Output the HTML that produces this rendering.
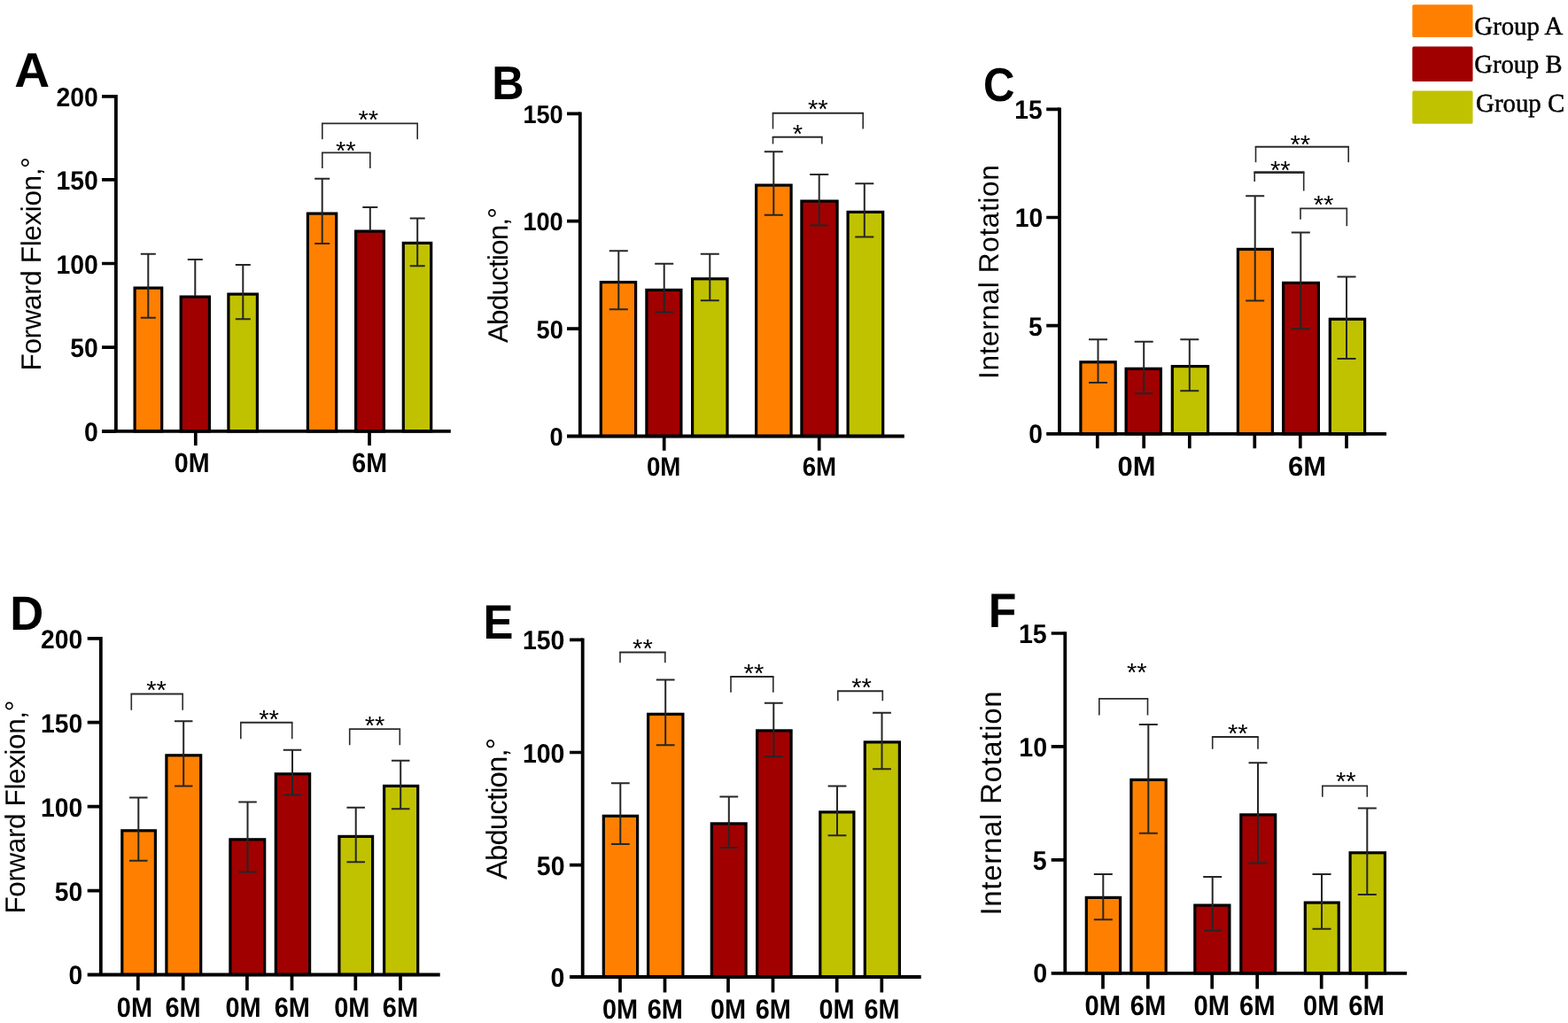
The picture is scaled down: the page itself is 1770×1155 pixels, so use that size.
<!DOCTYPE html>
<html lang="en">
<head>
<meta charset="utf-8">
<title>Shoulder range of motion by group at 0M and 6M</title>
<style>
html,body{margin:0;padding:0;background:#fff;}
body{width:1770px;height:1155px;overflow:hidden;}
svg{display:block;}
text{white-space:pre;text-rendering:geometricPrecision;}
</style>
</head>
<body>
<svg width="1770" height="1155" viewBox="0 0 1770 1155" role="img" aria-label="Bar charts of forward flexion, abduction and internal rotation for groups A, B and C at 0M and 6M">
<rect width="1770" height="1155" fill="#fff"/>
<g>
<rect x="152.1" y="325.1" width="30.6" height="161.8" fill="#ff8000" stroke="#000" stroke-width="3.2"/>
<rect x="204.2" y="335.1" width="32.2" height="151.8" fill="#a00000" stroke="#000" stroke-width="3.2"/>
<rect x="257.9" y="332.1" width="32.5" height="154.8" fill="#c0c200" stroke="#000" stroke-width="3.2"/>
<rect x="347.4" y="241.1" width="32.3" height="245.8" fill="#ff8000" stroke="#000" stroke-width="3.2"/>
<rect x="401.6" y="261.1" width="31.8" height="225.8" fill="#a00000" stroke="#000" stroke-width="3.2"/>
<rect x="455.3" y="274.4" width="31.4" height="212.5" fill="#c0c200" stroke="#000" stroke-width="3.2"/>
<path d="M167.3 286.7V358.7M158.8 286.7H175.8M158.8 358.7H175.8" fill="none" stroke="#262626" stroke-width="2"/>
<path d="M220.3 293V334.5M211.8 293H228.8" fill="none" stroke="#262626" stroke-width="2"/>
<path d="M274.3 299V360.3M265.8 299H282.8M265.8 360.3H282.8" fill="none" stroke="#262626" stroke-width="2"/>
<path d="M363.7 201.7V275M355.2 201.7H372.2M355.2 275H372.2" fill="none" stroke="#262626" stroke-width="2"/>
<path d="M417.8 234V260.5M409.3 234H426.3" fill="none" stroke="#262626" stroke-width="2"/>
<path d="M471.2 246.5V300.3M462.7 246.5H479.7M462.7 300.3H479.7" fill="none" stroke="#262626" stroke-width="2"/>
<path d="M130.9 106.95V488.8M115 486.9H508.8" fill="none" stroke="#000" stroke-width="3.8"/>
<text transform="translate(63.41 119.8) scale(0.9470 1)" font-family='"Liberation Sans", sans-serif' font-size="29.97" font-weight="700" fill="#000">200</text>
<text transform="translate(63.41 213.9) scale(0.9470 1)" font-family='"Liberation Sans", sans-serif' font-size="29.97" font-weight="700" fill="#000">150</text>
<text transform="translate(63.41 308.5) scale(0.9470 1)" font-family='"Liberation Sans", sans-serif' font-size="29.97" font-weight="700" fill="#000">100</text>
<text transform="translate(79.23 403.1) scale(0.9470 1)" font-family='"Liberation Sans", sans-serif' font-size="29.97" font-weight="700" fill="#000">50</text>
<text transform="translate(94.98 497.8) scale(0.9470 1)" font-family='"Liberation Sans", sans-serif' font-size="29.97" font-weight="700" fill="#000">0</text>
<path d="M115 108.8H130.9M115 202.9H130.9M115 297.5H130.9M115 392.1H130.9M115 486.8H130.9M220.8 486.9V503M417 486.9V503" fill="none" stroke="#000" stroke-width="3.7"/>
<text transform="translate(196.75 532.84) scale(0.9259 1)" font-family='"Liberation Sans", sans-serif' font-size="30.97" font-weight="700" fill="#000">0M</text>
<text transform="translate(397.29 532.84) scale(0.9259 1)" font-family='"Liberation Sans", sans-serif' font-size="30.97" font-weight="700" fill="#000">6M</text>
<path d="M363.8 157.2V139.4M471.2 139.4V157.2" fill="none" stroke="#2a2a2a" stroke-width="1.6"/>
<path d="M363 139.4H472" fill="none" stroke="#2a2a2a" stroke-width="1.9"/>
<text x="404.46" y="145.02" font-family='"Liberation Sans", sans-serif' font-size="29.2" fill="#000">**</text>
<path d="M363.8 190V172.4M417.8 172.4V190" fill="none" stroke="#2a2a2a" stroke-width="1.6"/>
<path d="M363 172.4H418.6" fill="none" stroke="#2a2a2a" stroke-width="1.9"/>
<text x="379.01" y="180.02" font-family='"Liberation Sans", sans-serif' font-size="29.2" fill="#000">**</text>
<text transform="translate(16.27 97.65) scale(1.0044 1)" font-family='"Liberation Sans", sans-serif' font-size="54.98" font-weight="700" fill="#000">A</text>
<text transform="translate(45.8 418.4) rotate(-90)" font-family='"Liberation Sans", sans-serif' font-size="31.5" letter-spacing="-0.38" fill="#000">Forward Flexion,°</text>
<rect x="678.3" y="318.6" width="39.3" height="173.9" fill="#ff8000" stroke="#000" stroke-width="3.2"/>
<rect x="729.9" y="327.4" width="39" height="165.1" fill="#a00000" stroke="#000" stroke-width="3.2"/>
<rect x="781.6" y="314.8" width="39.4" height="177.7" fill="#c0c200" stroke="#000" stroke-width="3.2"/>
<rect x="853.6" y="209.1" width="39.5" height="283.4" fill="#ff8000" stroke="#000" stroke-width="3.2"/>
<rect x="904.9" y="227.1" width="40.2" height="265.4" fill="#a00000" stroke="#000" stroke-width="3.2"/>
<rect x="957.1" y="239.4" width="39.6" height="253.1" fill="#c0c200" stroke="#000" stroke-width="3.2"/>
<path d="M698.3 283.3V349.2M687.8 283.3H708.8M687.8 349.2H708.8" fill="none" stroke="#262626" stroke-width="2"/>
<path d="M749.7 297.8V352.5M739.2 297.8H760.2M739.2 352.5H760.2" fill="none" stroke="#262626" stroke-width="2"/>
<path d="M801.3 286.7V339.2M790.8 286.7H811.8M790.8 339.2H811.8" fill="none" stroke="#262626" stroke-width="2"/>
<path d="M873.3 171.3V242.8M862.8 171.3H883.8M862.8 242.8H883.8" fill="none" stroke="#262626" stroke-width="2"/>
<path d="M924.7 197V254.5M914.2 197H935.2M914.2 254.5H935.2" fill="none" stroke="#262626" stroke-width="2"/>
<path d="M975.8 207.2V267.5M965.3 207.2H986.3M965.3 267.5H986.3" fill="none" stroke="#262626" stroke-width="2"/>
<path d="M654.8 126.45V494.4M640 492.5H1020.8" fill="none" stroke="#000" stroke-width="3.8"/>
<text transform="translate(590.4 138.86) scale(0.9470 1)" font-family='"Liberation Sans", sans-serif' font-size="28.68" font-weight="700" fill="#000">150</text>
<text transform="translate(590.4 260.26) scale(0.9470 1)" font-family='"Liberation Sans", sans-serif' font-size="28.68" font-weight="700" fill="#000">100</text>
<text transform="translate(605.54 381.66) scale(0.9470 1)" font-family='"Liberation Sans", sans-serif' font-size="28.68" font-weight="700" fill="#000">50</text>
<text transform="translate(620.61 502.66) scale(0.9470 1)" font-family='"Liberation Sans", sans-serif' font-size="28.68" font-weight="700" fill="#000">0</text>
<path d="M640 128.3H654.8M640 249.7H654.8M640 371.1H654.8M749.7 492.5V508.8M924.7 492.5V508.8" fill="none" stroke="#000" stroke-width="3.7"/>
<text transform="translate(729.92 537.18) scale(0.9259 1)" font-family='"Liberation Sans", sans-serif' font-size="29.91" font-weight="700" fill="#000">0M</text>
<text transform="translate(905.7 537.18) scale(0.9259 1)" font-family='"Liberation Sans", sans-serif' font-size="29.91" font-weight="700" fill="#000">6M</text>
<path d="M872.5 145.5V127.7M974.2 127.7V145.5" fill="none" stroke="#2a2a2a" stroke-width="1.6"/>
<path d="M871.7 127.7H975" fill="none" stroke="#2a2a2a" stroke-width="1.9"/>
<text x="911.91" y="132.66" font-family='"Liberation Sans", sans-serif' font-size="29.2" fill="#000">**</text>
<path d="M872.5 162.5V154.7M927.8 154.7V162.5" fill="none" stroke="#2a2a2a" stroke-width="1.6"/>
<path d="M871.7 154.7H928.6" fill="none" stroke="#2a2a2a" stroke-width="1.9"/>
<text x="894.81" y="160.87" font-family='"Liberation Sans", sans-serif' font-size="29.2" fill="#000">*</text>
<text transform="translate(555.25 112.15) scale(0.9402 1)" font-family='"Liberation Sans", sans-serif' font-size="53.53" font-weight="700" fill="#000">B</text>
<text transform="translate(573 387.08) rotate(-90)" font-family='"Liberation Sans", sans-serif' font-size="31.5" letter-spacing="-0.85" fill="#000">Abduction,°</text>
<rect x="1219.9" y="408.8" width="39.3" height="81.1" fill="#ff8000" stroke="#000" stroke-width="3.2"/>
<rect x="1271.1" y="416.3" width="39.3" height="73.6" fill="#a00000" stroke="#000" stroke-width="3.2"/>
<rect x="1323.3" y="413.6" width="40.3" height="76.3" fill="#c0c200" stroke="#000" stroke-width="3.2"/>
<rect x="1397.4" y="281.4" width="39" height="208.5" fill="#ff8000" stroke="#000" stroke-width="3.2"/>
<rect x="1448.6" y="319.4" width="39.8" height="170.5" fill="#a00000" stroke="#000" stroke-width="3.2"/>
<rect x="1501.3" y="360.3" width="39.3" height="129.6" fill="#c0c200" stroke="#000" stroke-width="3.2"/>
<path d="M1239.5 383.2V432M1229 383.2H1250M1229 432H1250" fill="none" stroke="#262626" stroke-width="2"/>
<path d="M1291.2 385.7V444.2M1280.7 385.7H1301.7M1280.7 444.2H1301.7" fill="none" stroke="#262626" stroke-width="2"/>
<path d="M1342.8 383.2V441.3M1332.3 383.2H1353.3M1332.3 441.3H1353.3" fill="none" stroke="#262626" stroke-width="2"/>
<path d="M1416.7 221.3V339.5M1406.2 221.3H1427.2M1406.2 339.5H1427.2" fill="none" stroke="#262626" stroke-width="2"/>
<path d="M1468.3 262.5V371.2M1457.8 262.5H1478.8M1457.8 371.2H1478.8" fill="none" stroke="#262626" stroke-width="2"/>
<path d="M1520 312.5V405M1509.5 312.5H1530.5M1509.5 405H1530.5" fill="none" stroke="#262626" stroke-width="2"/>
<path d="M1196 121.45V491.8M1181.2 489.9H1565" fill="none" stroke="#000" stroke-width="3.8"/>
<text transform="translate(1145.34 134.1) scale(0.9470 1)" font-family='"Liberation Sans", sans-serif' font-size="29.82" font-weight="700" fill="#000">15</text>
<text transform="translate(1145.69 256.45) scale(0.9470 1)" font-family='"Liberation Sans", sans-serif' font-size="29.82" font-weight="700" fill="#000">10</text>
<text transform="translate(1161.01 378.5) scale(0.9470 1)" font-family='"Liberation Sans", sans-serif' font-size="29.82" font-weight="700" fill="#000">5</text>
<text transform="translate(1161.36 500.45) scale(0.9470 1)" font-family='"Liberation Sans", sans-serif' font-size="29.82" font-weight="700" fill="#000">0</text>
<path d="M1181.2 123.3H1196M1181.2 245.5H1196M1181.2 367.7H1196M1238.8 489.9V506.3M1291.2 489.9V506.3M1342.8 489.9V506.3M1416.3 489.9V506.3M1467.8 489.9V506.3M1520 489.9V506.3" fill="none" stroke="#000" stroke-width="3.7"/>
<text x="1261.44" y="536.7" font-family='"Liberation Sans", sans-serif' font-size="30.98" font-weight="700" fill="#000">0M</text>
<text x="1454.12" y="536.7" font-family='"Liberation Sans", sans-serif' font-size="30.98" font-weight="700" fill="#000">6M</text>
<path d="M1417.5 183.3V165.7M1522.2 165.7V183.3" fill="none" stroke="#2a2a2a" stroke-width="1.6"/>
<path d="M1416.7 165.7H1523" fill="none" stroke="#2a2a2a" stroke-width="1.9"/>
<text x="1456.51" y="172.67" font-family='"Liberation Sans", sans-serif' font-size="29.2" fill="#000">**</text>
<path d="M1416.2 205V194.6M1471.7 194.6V215.5" fill="none" stroke="#2a2a2a" stroke-width="1.6"/>
<path d="M1415.4 194.6H1472.5" fill="none" stroke="#2a2a2a" stroke-width="2.6"/>
<text x="1434.01" y="202.37" font-family='"Liberation Sans", sans-serif' font-size="29.2" fill="#000">**</text>
<path d="M1468 247.8V235.4M1520.3 235.4V255.3" fill="none" stroke="#2a2a2a" stroke-width="1.6"/>
<path d="M1467.2 235.4H1521.1" fill="none" stroke="#2a2a2a" stroke-width="1.9"/>
<text x="1482.71" y="241.06" font-family='"Liberation Sans", sans-serif' font-size="29.2" fill="#000">**</text>
<text transform="translate(1109.88 114.02) scale(0.9226 1)" font-family='"Liberation Sans", sans-serif' font-size="53.29" font-weight="700" fill="#000">C</text>
<text transform="translate(1127.3 427.91) rotate(-90)" font-family='"Liberation Sans", sans-serif' font-size="31.5" letter-spacing="0.66" fill="#000">Internal Rotation</text>
<rect x="137.8" y="937.8" width="37.6" height="162.7" fill="#ff8000" stroke="#000" stroke-width="3.2"/>
<rect x="187.9" y="852.8" width="38.8" height="247.7" fill="#ff8000" stroke="#000" stroke-width="3.2"/>
<rect x="259.9" y="947.8" width="38.8" height="152.7" fill="#a00000" stroke="#000" stroke-width="3.2"/>
<rect x="311.3" y="873.8" width="38.3" height="226.7" fill="#a00000" stroke="#000" stroke-width="3.2"/>
<rect x="382.9" y="944.4" width="37.7" height="156.1" fill="#c0c200" stroke="#000" stroke-width="3.2"/>
<rect x="433.6" y="887.4" width="38.1" height="213.1" fill="#c0c200" stroke="#000" stroke-width="3.2"/>
<path d="M156.3 900.5V971.7M146.05 900.5H166.55M146.05 971.7H166.55" fill="none" stroke="#262626" stroke-width="2"/>
<path d="M207.2 814.2V887.5M196.95 814.2H217.45M196.95 887.5H217.45" fill="none" stroke="#262626" stroke-width="2"/>
<path d="M279.5 905.5V984.5M269.25 905.5H289.75M269.25 984.5H289.75" fill="none" stroke="#262626" stroke-width="2"/>
<path d="M330 846.7V897.5M319.75 846.7H340.25M319.75 897.5H340.25" fill="none" stroke="#262626" stroke-width="2"/>
<path d="M401.7 911.7V973.3M391.45 911.7H411.95M391.45 973.3H411.95" fill="none" stroke="#262626" stroke-width="2"/>
<path d="M452.2 858.8V913.3M441.95 858.8H462.45M441.95 913.3H462.45" fill="none" stroke="#262626" stroke-width="2"/>
<path d="M113.8 718.95V1102.4M98.7 1100.5H496.7" fill="none" stroke="#000" stroke-width="3.8"/>
<text transform="translate(46.11 731.76) scale(0.9470 1)" font-family='"Liberation Sans", sans-serif' font-size="29.84" font-weight="700" fill="#000">200</text>
<text transform="translate(46.11 826.66) scale(0.9470 1)" font-family='"Liberation Sans", sans-serif' font-size="29.84" font-weight="700" fill="#000">150</text>
<text transform="translate(46.11 921.56) scale(0.9470 1)" font-family='"Liberation Sans", sans-serif' font-size="29.84" font-weight="700" fill="#000">100</text>
<text transform="translate(61.86 1016.56) scale(0.9470 1)" font-family='"Liberation Sans", sans-serif' font-size="29.84" font-weight="700" fill="#000">50</text>
<text transform="translate(77.55 1111.06) scale(0.9470 1)" font-family='"Liberation Sans", sans-serif' font-size="29.84" font-weight="700" fill="#000">0</text>
<path d="M98.7 720.8H113.8M98.7 815.7H113.8M98.7 910.6H113.8M98.7 1005.6H113.8M155.8 1100.5V1118.2M206.7 1100.5V1118.2M278.9 1100.5V1118.2M329.5 1100.5V1118.2M401.3 1100.5V1118.2M452 1100.5V1118.2" fill="none" stroke="#000" stroke-width="3.7"/>
<text transform="translate(131.8 1147.66) scale(0.9259 1)" font-family='"Liberation Sans", sans-serif' font-size="31.29" font-weight="700" fill="#000">0M</text>
<text transform="translate(186.44 1147.66) scale(0.9259 1)" font-family='"Liberation Sans", sans-serif' font-size="31.29" font-weight="700" fill="#000">6M</text>
<text transform="translate(254.45 1147.66) scale(0.9259 1)" font-family='"Liberation Sans", sans-serif' font-size="31.29" font-weight="700" fill="#000">0M</text>
<text transform="translate(309.64 1147.66) scale(0.9259 1)" font-family='"Liberation Sans", sans-serif' font-size="31.29" font-weight="700" fill="#000">6M</text>
<text transform="translate(377.2 1147.66) scale(0.9259 1)" font-family='"Liberation Sans", sans-serif' font-size="31.29" font-weight="700" fill="#000">0M</text>
<text transform="translate(431.84 1147.66) scale(0.9259 1)" font-family='"Liberation Sans", sans-serif' font-size="31.29" font-weight="700" fill="#000">6M</text>
<path d="M148.3 801.7V783.5M206.2 783.5V801.7" fill="none" stroke="#2a2a2a" stroke-width="1.6"/>
<path d="M147.5 783.5H207" fill="none" stroke="#2a2a2a" stroke-width="1.9"/>
<text x="165.26" y="789.07" font-family='"Liberation Sans", sans-serif' font-size="29.2" fill="#000">**</text>
<path d="M271.8 834.2V815.8M329.7 815.8V834.2" fill="none" stroke="#2a2a2a" stroke-width="1.6"/>
<path d="M271 815.8H330.5" fill="none" stroke="#2a2a2a" stroke-width="1.9"/>
<text x="292.21" y="821.87" font-family='"Liberation Sans", sans-serif' font-size="29.2" fill="#000">**</text>
<path d="M394.7 841.3V823.1M451.3 823.1V841.3" fill="none" stroke="#2a2a2a" stroke-width="1.6"/>
<path d="M393.9 823.1H452.1" fill="none" stroke="#2a2a2a" stroke-width="1.9"/>
<text x="411.71" y="829.37" font-family='"Liberation Sans", sans-serif' font-size="29.2" fill="#000">**</text>
<text transform="translate(11.3 710.65) scale(0.9716 1)" font-family='"Liberation Sans", sans-serif' font-size="54.11" font-weight="700" fill="#000">D</text>
<text transform="translate(28.3 1031.6) rotate(-90)" font-family='"Liberation Sans", sans-serif' font-size="31.5" letter-spacing="-0.39" fill="#000">Forward Flexion,°</text>
<rect x="681.3" y="921.3" width="38.3" height="181.7" fill="#ff8000" stroke="#000" stroke-width="3.2"/>
<rect x="731.6" y="806.3" width="39.3" height="296.7" fill="#ff8000" stroke="#000" stroke-width="3.2"/>
<rect x="803.3" y="929.9" width="38.8" height="173.1" fill="#a00000" stroke="#000" stroke-width="3.2"/>
<rect x="854.6" y="824.9" width="38.5" height="278.1" fill="#a00000" stroke="#000" stroke-width="3.2"/>
<rect x="925.8" y="916.9" width="38.1" height="186.1" fill="#c0c200" stroke="#000" stroke-width="3.2"/>
<rect x="976.3" y="837.9" width="39.1" height="265.1" fill="#c0c200" stroke="#000" stroke-width="3.2"/>
<path d="M700.3 884.2V953M689.9 884.2H710.7M689.9 953H710.7" fill="none" stroke="#262626" stroke-width="2"/>
<path d="M751.2 767.5V841.3M740.8 767.5H761.6M740.8 841.3H761.6" fill="none" stroke="#262626" stroke-width="2"/>
<path d="M822.8 899.6V957M812.4 899.6H833.2M812.4 957H833.2" fill="none" stroke="#262626" stroke-width="2"/>
<path d="M873.3 793.7V854.2M862.9 793.7H883.7M862.9 854.2H883.7" fill="none" stroke="#262626" stroke-width="2"/>
<path d="M945 887.5V943.3M934.6 887.5H955.4M934.6 943.3H955.4" fill="none" stroke="#262626" stroke-width="2"/>
<path d="M995.5 804.7V868.3M985.1 804.7H1005.9M985.1 868.3H1005.9" fill="none" stroke="#262626" stroke-width="2"/>
<path d="M657.7 720.45V1104.9M643 1103H1039.7" fill="none" stroke="#000" stroke-width="3.8"/>
<text transform="translate(589.92 733.34) scale(0.9470 1)" font-family='"Liberation Sans", sans-serif' font-size="30.09" font-weight="700" fill="#000">150</text>
<text transform="translate(589.92 860.54) scale(0.9470 1)" font-family='"Liberation Sans", sans-serif' font-size="30.09" font-weight="700" fill="#000">100</text>
<text transform="translate(605.81 987.74) scale(0.9470 1)" font-family='"Liberation Sans", sans-serif' font-size="30.09" font-weight="700" fill="#000">50</text>
<text transform="translate(621.62 1113.64) scale(0.9470 1)" font-family='"Liberation Sans", sans-serif' font-size="30.09" font-weight="700" fill="#000">0</text>
<path d="M643 722.3H657.7M643 849.5H657.7M643 976.7H657.7M700 1103V1120.5M750.5 1103V1120.5M822 1103V1120.5M872.5 1103V1120.5M944.7 1103V1120.5M995.3 1103V1120.5" fill="none" stroke="#000" stroke-width="3.7"/>
<text transform="translate(679.89 1150.13) scale(0.9259 1)" font-family='"Liberation Sans", sans-serif' font-size="31.22" font-weight="700" fill="#000">0M</text>
<text transform="translate(730.63 1150.13) scale(0.9259 1)" font-family='"Liberation Sans", sans-serif' font-size="31.22" font-weight="700" fill="#000">6M</text>
<text transform="translate(801.99 1150.13) scale(0.9259 1)" font-family='"Liberation Sans", sans-serif' font-size="31.22" font-weight="700" fill="#000">0M</text>
<text transform="translate(852.68 1150.13) scale(0.9259 1)" font-family='"Liberation Sans", sans-serif' font-size="31.22" font-weight="700" fill="#000">6M</text>
<text transform="translate(924.49 1150.13) scale(0.9259 1)" font-family='"Liberation Sans", sans-serif' font-size="31.22" font-weight="700" fill="#000">0M</text>
<text transform="translate(975.38 1150.13) scale(0.9259 1)" font-family='"Liberation Sans", sans-serif' font-size="31.22" font-weight="700" fill="#000">6M</text>
<path d="M700 748.3V736.5M750.8 736.5V748.3" fill="none" stroke="#2a2a2a" stroke-width="1.6"/>
<path d="M699.2 736.5H751.6" fill="none" stroke="#2a2a2a" stroke-width="1.9"/>
<text x="714.11" y="741.87" font-family='"Liberation Sans", sans-serif' font-size="29.2" fill="#000">**</text>
<path d="M825 781.7V764M872.8 764V781.7" fill="none" stroke="#2a2a2a" stroke-width="1.6"/>
<path d="M824.2 764H873.6" fill="none" stroke="#2a2a2a" stroke-width="1.9"/>
<text x="839.61" y="770.41" font-family='"Liberation Sans", sans-serif' font-size="29.2" fill="#000">**</text>
<path d="M945.8 791.3V780.2M996.3 780.2V791.3" fill="none" stroke="#2a2a2a" stroke-width="1.6"/>
<path d="M945 780.2H997.1" fill="none" stroke="#2a2a2a" stroke-width="1.9"/>
<text x="961.26" y="786.47" font-family='"Liberation Sans", sans-serif' font-size="29.2" fill="#000">**</text>
<text transform="translate(545.41 720.65) scale(0.9330 1)" font-family='"Liberation Sans", sans-serif' font-size="54.55" font-weight="700" fill="#000">E</text>
<text transform="translate(571.8 993.08) rotate(-90)" font-family='"Liberation Sans", sans-serif' font-size="32.9" letter-spacing="-0.86" fill="#000">Abduction,°</text>
<rect x="1226.3" y="1013.4" width="38.3" height="85.4" fill="#ff8000" stroke="#000" stroke-width="3.2"/>
<rect x="1276.9" y="880.4" width="39.3" height="218.4" fill="#ff8000" stroke="#000" stroke-width="3.2"/>
<rect x="1348.8" y="1022.1" width="39.1" height="76.7" fill="#a00000" stroke="#000" stroke-width="3.2"/>
<rect x="1400.8" y="919.9" width="38.9" height="178.9" fill="#a00000" stroke="#000" stroke-width="3.2"/>
<rect x="1473.3" y="1019.1" width="37.9" height="79.7" fill="#c0c200" stroke="#000" stroke-width="3.2"/>
<rect x="1524.1" y="962.8" width="39.3" height="136" fill="#c0c200" stroke="#000" stroke-width="3.2"/>
<path d="M1245.3 987V1038.3M1234.8 987H1255.8M1234.8 1038.3H1255.8" fill="none" stroke="#262626" stroke-width="2"/>
<path d="M1296.3 818V940.8M1285.8 818H1306.8M1285.8 940.8H1306.8" fill="none" stroke="#262626" stroke-width="2"/>
<path d="M1368.7 990V1050.8M1358.2 990H1379.2M1358.2 1050.8H1379.2" fill="none" stroke="#262626" stroke-width="2"/>
<path d="M1420 861.3V974.5M1409.5 861.3H1430.5M1409.5 974.5H1430.5" fill="none" stroke="#262626" stroke-width="2"/>
<path d="M1492 987V1048.8M1481.5 987H1502.5M1481.5 1048.8H1502.5" fill="none" stroke="#262626" stroke-width="2"/>
<path d="M1543.3 912.5V1010M1532.8 912.5H1553.8M1532.8 1010H1553.8" fill="none" stroke="#262626" stroke-width="2"/>
<path d="M1202.3 713.15V1100.7M1186.7 1098.8H1588" fill="none" stroke="#000" stroke-width="3.8"/>
<text transform="translate(1149.91 725.94) scale(0.9470 1)" font-family='"Liberation Sans", sans-serif' font-size="30.23" font-weight="700" fill="#000">15</text>
<text transform="translate(1150.27 853.99) scale(0.9470 1)" font-family='"Liberation Sans", sans-serif' font-size="30.23" font-weight="700" fill="#000">10</text>
<text transform="translate(1165.8 981.84) scale(0.9470 1)" font-family='"Liberation Sans", sans-serif' font-size="30.23" font-weight="700" fill="#000">5</text>
<text transform="translate(1166.16 1109.49) scale(0.9470 1)" font-family='"Liberation Sans", sans-serif' font-size="30.23" font-weight="700" fill="#000">0</text>
<path d="M1186.7 715H1202.3M1186.7 842.9H1202.3M1186.7 970.9H1202.3M1245 1098.8V1116.5M1295.8 1098.8V1116.5M1368.2 1098.8V1116.5M1419.2 1098.8V1116.5M1491.7 1098.8V1116.5M1542.5 1098.8V1116.5" fill="none" stroke="#000" stroke-width="3.7"/>
<text transform="translate(1224.52 1146.2) scale(0.9259 1)" font-family='"Liberation Sans", sans-serif' font-size="31.57" font-weight="700" fill="#000">0M</text>
<text transform="translate(1275.86 1146.2) scale(0.9259 1)" font-family='"Liberation Sans", sans-serif' font-size="31.57" font-weight="700" fill="#000">6M</text>
<text transform="translate(1347.62 1146.2) scale(0.9259 1)" font-family='"Liberation Sans", sans-serif' font-size="31.57" font-weight="700" fill="#000">0M</text>
<text transform="translate(1399.01 1146.2) scale(0.9259 1)" font-family='"Liberation Sans", sans-serif' font-size="31.57" font-weight="700" fill="#000">6M</text>
<text transform="translate(1470.97 1146.2) scale(0.9259 1)" font-family='"Liberation Sans", sans-serif' font-size="31.57" font-weight="700" fill="#000">0M</text>
<text transform="translate(1522.21 1146.2) scale(0.9259 1)" font-family='"Liberation Sans", sans-serif' font-size="31.57" font-weight="700" fill="#000">6M</text>
<path d="M1240.8 807.5V788.9M1295.5 788.9V807.5" fill="none" stroke="#2a2a2a" stroke-width="1.6"/>
<path d="M1240 788.9H1296.3" fill="none" stroke="#2a2a2a" stroke-width="1.9"/>
<text x="1271.96" y="768.57" font-family='"Liberation Sans", sans-serif' font-size="29.2" fill="#000">**</text>
<path d="M1368.7 845.8V832M1420 832V845.8" fill="none" stroke="#2a2a2a" stroke-width="1.6"/>
<path d="M1367.9 832H1420.8" fill="none" stroke="#2a2a2a" stroke-width="1.9"/>
<text x="1385.96" y="837.66" font-family='"Liberation Sans", sans-serif' font-size="29.2" fill="#000">**</text>
<path d="M1492.8 899.7V887.4M1543.3 887.4V899.7" fill="none" stroke="#2a2a2a" stroke-width="1.6"/>
<path d="M1492 887.4H1544.1" fill="none" stroke="#2a2a2a" stroke-width="1.9"/>
<text x="1507.96" y="891.87" font-family='"Liberation Sans", sans-serif' font-size="29.2" fill="#000">**</text>
<text transform="translate(1115.85 707.65) scale(0.9501 1)" font-family='"Liberation Sans", sans-serif' font-size="54.55" font-weight="700" fill="#000">F</text>
<text transform="translate(1129.7 1033.55) rotate(-90)" font-family='"Liberation Sans", sans-serif' font-size="33" letter-spacing="0.69" fill="#000">Internal Rotation</text>
<rect x="1594.3" y="5.2" width="68.2" height="36.8" rx="1.5" fill="#ff8000"/>
<rect x="1594.3" y="52.6" width="68.2" height="39.4" rx="1.5" fill="#a00000"/>
<rect x="1594.3" y="102.6" width="68.2" height="37.1" rx="1.5" fill="#c0c200"/>
<text transform="translate(1664.35 38.6) scale(0.9927 1)" font-family='"Liberation Serif", serif' font-size="29" fill="#000" stroke="#000" stroke-width="0.5">Group A</text>
<text transform="translate(1664.36 82.1) scale(0.9858 1)" font-family='"Liberation Serif", serif' font-size="29" fill="#000" stroke="#000" stroke-width="0.5">Group B</text>
<text transform="translate(1666.05 125.6) scale(0.9944 1)" font-family='"Liberation Serif", serif' font-size="29" fill="#000" stroke="#000" stroke-width="0.5">Group C</text>
</g>
</svg>
</body>
</html>
